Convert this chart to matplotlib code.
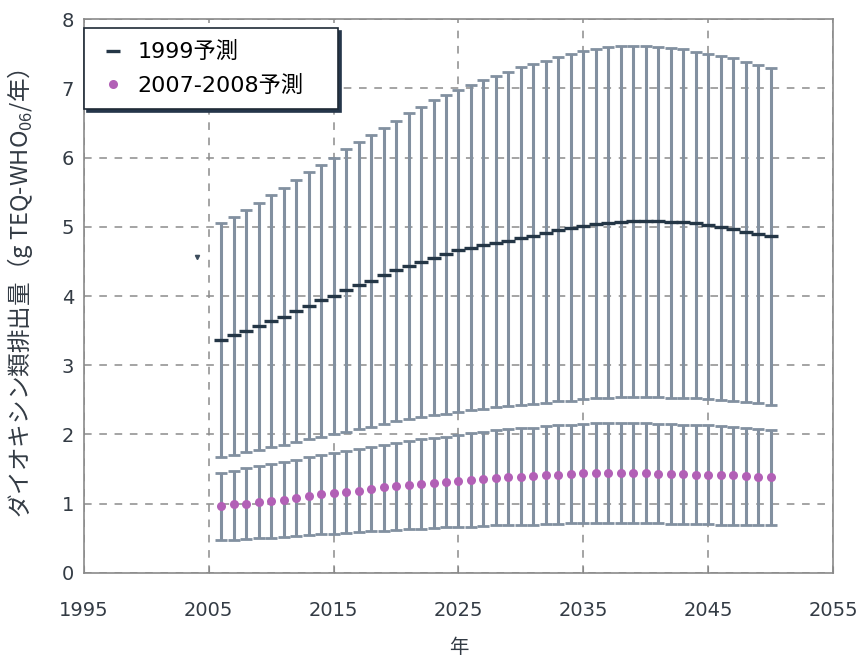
import numpy as np
import matplotlib.pyplot as plt

plt.rcParams['font.family'] = ['DejaVu Sans', 'Noto Sans CJK JP']
plt.rcParams['mathtext.fontset'] = 'custom'
plt.rcParams['mathtext.rm'] = 'Noto Sans CJK JP'

years = np.arange(2006, 2051)

# 1999予測: 平均値と上限・下限
mean_1999 = [3.37, 3.43, 3.50, 3.57, 3.64, 3.70, 3.78, 3.86, 3.94, 4.00,
             4.09, 4.16, 4.22, 4.30, 4.38, 4.44, 4.49, 4.55, 4.61, 4.66,
             4.70, 4.74, 4.77, 4.80, 4.84, 4.87, 4.91, 4.95, 4.98, 5.01,
             5.04, 5.05, 5.07, 5.08, 5.08, 5.08, 5.07, 5.07, 5.05, 5.02,
             5.00, 4.97, 4.93, 4.90, 4.87]
upper_1999 = [5.05, 5.14, 5.24, 5.35, 5.46, 5.56, 5.67, 5.79, 5.89, 6.00,
              6.12, 6.23, 6.33, 6.42, 6.53, 6.64, 6.73, 6.83, 6.90, 6.98,
              7.05, 7.12, 7.18, 7.24, 7.30, 7.35, 7.40, 7.45, 7.50, 7.54,
              7.57, 7.59, 7.61, 7.61, 7.61, 7.60, 7.58, 7.56, 7.53, 7.50,
              7.47, 7.44, 7.38, 7.34, 7.29]
lower_1999 = [1.68, 1.71, 1.75, 1.78, 1.82, 1.85, 1.89, 1.93, 1.97, 2.00,
              2.04, 2.08, 2.11, 2.15, 2.19, 2.22, 2.25, 2.28, 2.30, 2.33,
              2.35, 2.37, 2.39, 2.41, 2.43, 2.44, 2.46, 2.48, 2.49, 2.51,
              2.52, 2.53, 2.54, 2.54, 2.54, 2.54, 2.53, 2.53, 2.52, 2.51,
              2.50, 2.49, 2.47, 2.45, 2.43]

# 2007-2008予測
mean_0708 = [0.97, 0.99, 1.00, 1.02, 1.04, 1.06, 1.08, 1.11, 1.14, 1.15,
             1.17, 1.19, 1.21, 1.24, 1.25, 1.27, 1.29, 1.30, 1.32, 1.33,
             1.35, 1.36, 1.37, 1.39, 1.39, 1.40, 1.41, 1.42, 1.43, 1.44,
             1.44, 1.44, 1.44, 1.44, 1.44, 1.43, 1.43, 1.43, 1.42, 1.42,
             1.41, 1.41, 1.40, 1.39, 1.38]
upper_0708 = [1.44, 1.48, 1.51, 1.54, 1.57, 1.60, 1.63, 1.67, 1.70, 1.73,
              1.76, 1.79, 1.82, 1.85, 1.88, 1.91, 1.93, 1.95, 1.97, 1.99,
              2.02, 2.04, 2.06, 2.08, 2.09, 2.10, 2.12, 2.13, 2.14, 2.15,
              2.16, 2.16, 2.16, 2.16, 2.16, 2.15, 2.15, 2.14, 2.13, 2.13,
              2.12, 2.11, 2.10, 2.08, 2.07]
lower_0708 = [0.47, 0.48, 0.49, 0.50, 0.51, 0.52, 0.53, 0.55, 0.56, 0.57,
              0.58, 0.59, 0.60, 0.61, 0.62, 0.63, 0.64, 0.65, 0.66, 0.66,
              0.67, 0.68, 0.69, 0.69, 0.70, 0.70, 0.71, 0.71, 0.72, 0.72,
              0.72, 0.72, 0.72, 0.72, 0.72, 0.72, 0.71, 0.71, 0.71, 0.71,
              0.70, 0.70, 0.70, 0.69, 0.69]

# 2004年の単独点
year_2004 = [2004.05]
value_2004 = [4.57]

bar_col = '#8290a0'
txt_col = '#333b44'

def draw_range(ax, mean, upper, lower):
    mean = np.array(mean)
    err = [mean - np.array(lower), np.array(upper) - mean]
    ax.errorbar(years, mean, yerr=err, fmt='none', ecolor=bar_col,
                elinewidth=2.2, capsize=4.5, capthick=2, zorder=2)

fig = plt.figure(figsize=(8.63, 6.58), dpi=100)
ax = fig.add_axes([0.0973, 0.1292, 0.8679, 0.8419])

draw_range(ax, mean_1999, upper_1999, lower_1999)
draw_range(ax, mean_0708, upper_0708, lower_0708)

ax.plot(years, mean_1999, ls='', marker='_', ms=10, mew=2.4,
        color='#243646', label='1999予測', zorder=3)
ax.plot(years, mean_0708, ls='', marker='o', ms=6.5, mec='none',
        color='#b260b6', label='2007-2008予測', zorder=3)
ax.plot(year_2004, value_2004, ls='', marker='v', ms=3, color='#3c4c5c', zorder=3)

ax.set_xlim(1995, 2055)
ax.set_ylim(0, 8)
ax.set_xticks(np.arange(1995, 2056, 10))
ax.set_yticks(np.arange(0, 9, 1))

ax.set_axisbelow(True)
ax.grid(True, ls=(0, (5, 5)), color='#8c8c8c', lw=1.1)
for s in ax.spines.values():
    s.set_color('#8a8a8a')
    s.set_linewidth(1.2)

ax.tick_params(axis='x', direction='in', length=5, color='#8a8a8a',
               pad=20, labelsize=14, labelcolor=txt_col)
ax.tick_params(axis='y', length=0, pad=7, labelsize=14, labelcolor=txt_col)

ax.set_xlabel('年', fontsize=14, color=txt_col, labelpad=13)
ax.set_ylabel('ダイオキシン類排出量（g TEQ-WHO$_{06}$/年）', fontsize=17,
              family='Noto Sans CJK JP', color=txt_col)
ax.yaxis.set_label_coords(-0.066, 0.505)

leg = ax.legend(loc='upper left', bbox_to_anchor=(0.0, 0.0, 0.339, 0.984),
                mode='expand', fontsize=16,
                frameon=True, fancybox=False, shadow={'color': '#25364a', 'alpha': 1},
                handlelength=1.4, handletextpad=0.4, borderpad=0.6,
                labelspacing=0.55, borderaxespad=0.0)
leg.get_frame().set_edgecolor('#1f2a36')
leg.get_frame().set_linewidth(1.2)

fig.savefig('out.png', dpi=100)
